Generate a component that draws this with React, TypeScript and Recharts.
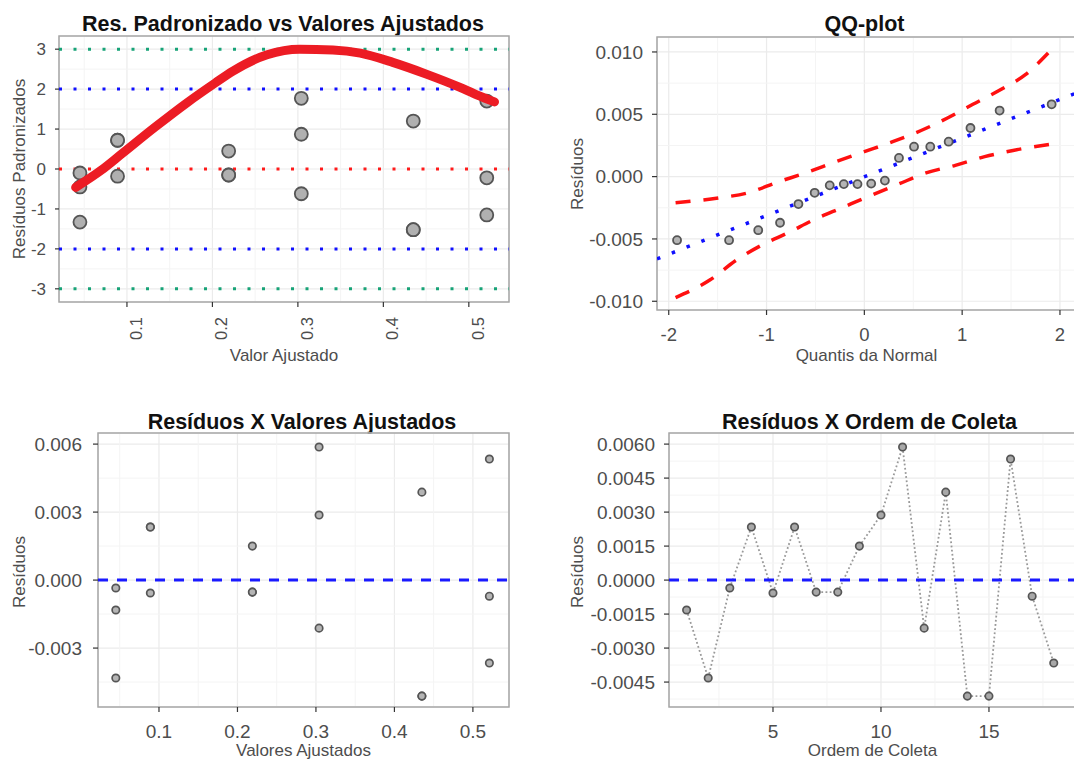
import React from "react";
import {
  ComposedChart, Scatter, Line, XAxis, YAxis, CartesianGrid,
  ReferenceLine, ReferenceArea, Label,
} from "recharts";

const FONT = '"Liberation Sans", Arial, Helvetica, sans-serif';
const INK = "#4d4d4d";
const MAJOR = "#ebebeb";
const MINOR = "#f4f4f4";
const BORDER = "#a6a6a6";

// ── dados ──────────────────────────────────────────────────────────────────
const ordem = [1, 2, 3, 4, 5, 6, 7, 8, 9, 10, 11, 12, 13, 14, 15, 16, 17, 18];
const ajustados = [0.045, 0.045, 0.045, 0.089, 0.089, 0.089, 0.219, 0.219, 0.219,
  0.304, 0.304, 0.304, 0.435, 0.435, 0.435, 0.521, 0.521, 0.521];
const residuos = [-0.00132, -0.00432, -0.00035, 0.00234, -0.00057, 0.00234, -0.00053, -0.00053, 0.0015,
  0.00287, 0.00587, -0.00212, 0.00388, -0.00512, -0.00512, 0.00534, -0.00071, -0.00366];
const resPadronizados = [-0.45, -1.33, -0.1, 0.72, -0.18, 0.72, -0.15, -0.15, 0.45,
  0.87, 1.77, -0.62, 1.2, -1.52, -1.52, 1.7, -0.22, -1.15];

// curva suavizada (vermelha) do painel 1
const suaveX = [0.040, 0.070, 0.094, 0.133, 0.171, 0.203, 0.224, 0.264, 0.302, 0.341, 0.373, 0.411, 0.451, 0.489, 0.510, 0.530];
const suaveY = [-0.46, -0.03, 0.38, 1.05, 1.67, 2.15, 2.45, 2.86, 3.0, 2.98, 2.9, 2.67, 2.37, 2.05, 1.85, 1.68];

// QQ-plot
const quantis = [-1.915, -1.383, -1.085, -0.862, -0.674, -0.508, -0.354, -0.210, -0.070,
  0.070, 0.210, 0.354, 0.508, 0.674, 0.862, 1.085, 1.383, 1.915];
const resOrdenados = [-0.0051, -0.0051, -0.0043, -0.0037, -0.0022, -0.0013, -0.0007, -0.0006, -0.0006,
  -0.00056, -0.00032, 0.0015, 0.0024, 0.0024, 0.0028, 0.0039, 0.0053, 0.0058];
const bandaSupX = [-1.93, -1.48, -1.19, -0.89, -0.60, -0.29, 0, 0.29, 0.58, 0.85, 1.11, 1.40, 1.65, 1.89];
const bandaSupY = [-0.0021, -0.0017, -0.0013, -0.00045, 0.0003, 0.0012, 0.002, 0.0028, 0.0037, 0.0047, 0.0058, 0.007, 0.0082, 0.0100];
const bandaInfX = [-1.93, -1.58, -1.31, -1.05, -0.78, -0.50, -0.23, 0.04, 0.35, 0.63, 0.93, 1.23, 1.52, 1.91];
const bandaInfY = [-0.0097, -0.0083, -0.0067, -0.0055, -0.0045, -0.0034, -0.0025, -0.0016, -0.0006, 0.0003, 0.0009, 0.0016, 0.0021, 0.0026];
const qqLinhaX = [-2.12, 2.164];
const qqLinhaY = [-0.0066, 0.0067];

// ticks
const xTicksAj = [0.1, 0.2, 0.3, 0.4, 0.5];
const yTicksPad = [-3, -2, -1, 0, 1, 2, 3];
const xTicksQQ = [-2, -1, 0, 1, 2];
const yTicksQQ = [-0.01, -0.005, 0, 0.005, 0.01];
const yTicksRes = [-0.003, 0, 0.003, 0.006];
const xTicksOrd = [5, 10, 15];
const yTicksOrd = [-0.0045, -0.003, -0.0015, 0, 0.0015, 0.003, 0.0045, 0.006];

const minorXAj = [0.05, 0.15, 0.25, 0.35, 0.45];
const minorYPad = [-2.5, -1.5, -0.5, 0.5, 1.5, 2.5];
const minorXQQ = [-1.5, -0.5, 0.5, 1.5];
const minorYQQ = [-0.0075, -0.0025, 0.0025, 0.0075];
const minorYRes = [-0.0045, -0.0015, 0.0015, 0.0045];
const minorXOrd = [2.5, 7.5, 12.5, 17.5];
const minorYOrd = [-0.00525, -0.00375, -0.00225, -0.00075, 0.00075, 0.00225, 0.00375, 0.00525];

const zip = (xs: number[], ys: number[]) => xs.map((x, i) => ({ x, y: ys[i] }));

const padData = zip(ajustados, resPadronizados);
const suaveData = zip(suaveX, suaveY);
const qqData = zip(quantis, resOrdenados);
const supData = zip(bandaSupX, bandaSupY);
const infData = zip(bandaInfX, bandaInfY);
const qqLinha = zip(qqLinhaX, qqLinhaY);
const resAjData = zip(ajustados, residuos);
const resOrdData = zip(ordem, residuos);

const tickStyle = (size: number) => ({ fill: INK, fontSize: size, fontFamily: FONT });
const tickLine = { stroke: "#333", strokeWidth: 1.2 };

function circle(r: number, fill: string, stroke: string, sw: number) {
  return (p: any) => <circle cx={p.cx} cy={p.cy} r={r} fill={fill} stroke={stroke} strokeWidth={sw} />;
}

function RotTick(props: any) {
  const { x, y, payload } = props;
  return (
    <text transform={`translate(${x + 15}, ${y + 10}) rotate(-90)`} textAnchor="end"
          fill={INK} fontSize={16.5} fontFamily={FONT}>
      {Number(payload.value).toFixed(1)}
    </text>
  );
}

function yTitle(text: string, x: number, y: number) {
  return (
    <Label content={() => (
      <text x={x} y={y} dy="0.3em" transform={`rotate(-90 ${x} ${y})`} textAnchor="middle"
            fill={INK} fontSize={17} fontFamily={FONT}>{text}</text>
    )} />
  );
}

function xTitle(text: string, offset = 1) {
  return <Label value={text} position="insideBottom" offset={offset} fill={INK} fontSize={17} fontFamily={FONT} />;
}

function Title({ text, cx, top }: { text: string; cx: number; top: number }) {
  return (
    <div style={{
      position: "absolute", left: cx - 300, width: 600, top, textAlign: "center",
      fontFamily: FONT, fontWeight: 700, fontSize: 21.5, lineHeight: "1", color: "#111",
    }}>{text}</div>
  );
}

function minorLines(xs: number[], ys: number[]) {
  return [
    ...xs.map((v) => <ReferenceLine key={"mx" + v} x={v} stroke={MINOR} strokeWidth={1} zIndex={-90} />),
    ...ys.map((v) => <ReferenceLine key={"my" + v} y={v} stroke={MINOR} strokeWidth={1} zIndex={-90} />),
  ];
}

export default function App() {
  const dxAj = [0.0205, 0.547];
  const dyPad = [-3.33, 3.33];
  const dxQQ = [-2.12, 2.164];
  const dyQQ = [-0.0107, 0.0112];
  const dxRes = [0.0223, 0.546];
  const dyRes = [-0.0056, 0.00649];
  const dxOrd = [0.185, 19.03];

  return (
    <div style={{ position: "fixed", left: 0, top: 0, width: 1074, height: 762, overflow: "hidden", background: "#fff" }}>
      {/* ── painel 1 ── */}
      <Title text="Res. Padronizado vs Valores Ajustados" cx={283} top={13.5} />
      <div style={{ position: "absolute", left: 0, top: 0 }}>
        <ComposedChart width={540} height={380} margin={{ top: 36, right: 31, bottom: 18, left: 14 }}>
          {minorLines(minorXAj, minorYPad)}
          <CartesianGrid stroke={MAJOR} strokeWidth={1.2} />
          <XAxis type="number" dataKey="x" domain={dxAj} ticks={xTicksAj} allowDataOverflow
                 height={60} tickSize={5} tickMargin={0} axisLine={false} tickLine={tickLine}
                 tick={RotTick} label={xTitle("Valor Ajustado")} />
          <YAxis type="number" dataKey="y" domain={dyPad} ticks={yTicksPad} allowDataOverflow
                 width={45} tickSize={4} tickMargin={9} axisLine={false} tickLine={tickLine}
                 tick={tickStyle(17)} label={yTitle("Resíduos Padronizados", 20, 169)} />
          <ReferenceArea x1={dxAj[0]} x2={dxAj[1]} y1={dyPad[0]} y2={dyPad[1]} fill="none"
                         stroke={BORDER} strokeWidth={1.5} ifOverflow="visible" />
          <ReferenceLine y={3} stroke="#17a377" strokeWidth={3} strokeDasharray="3 11.5" />
          <ReferenceLine y={-3} stroke="#17a377" strokeWidth={3} strokeDasharray="3 11.5" />
          <ReferenceLine y={2} stroke="#1010ff" strokeWidth={3} strokeDasharray="3 11.5" />
          <ReferenceLine y={-2} stroke="#1010ff" strokeWidth={3} strokeDasharray="3 11.5" />
          <ReferenceLine y={0} stroke="#ff1a1a" strokeWidth={3} strokeDasharray="3 11.5" />
          <Scatter data={padData} dataKey="y" isAnimationActive={false}
                   shape={circle(6.5, "#b0b0b0", "#555", 1.8)} />
          <Line data={suaveData} dataKey="y" type="monotone" stroke="#ec1c24" strokeWidth={9}
                strokeLinecap="round" dot={false} activeDot={false} isAnimationActive={false} zIndex={700} />
        </ComposedChart>
      </div>

      {/* ── painel 2: QQ-plot ── */}
      <Title text="QQ-plot" cx={864.5} top={13.5} />
      <div style={{ position: "absolute", left: 540, top: 0 }}>
        <ComposedChart width={540} height={380} margin={{ top: 37, right: 4, bottom: 18, left: 27 }}>
          {minorLines(minorXQQ, minorYQQ)}
          <CartesianGrid stroke={MAJOR} strokeWidth={1.2} />
          <XAxis type="number" dataKey="x" domain={dxQQ} ticks={xTicksQQ} allowDataOverflow
                 height={52} tickSize={5} tickMargin={13} axisLine={false} tickLine={tickLine}
                 tick={tickStyle(18.5)} label={xTitle("Quantis da Normal")} />
          <YAxis type="number" dataKey="y" domain={dyQQ} ticks={yTicksQQ} allowDataOverflow
                 width={90} tickSize={5} tickMargin={9} axisLine={false} tickLine={tickLine}
                 tick={tickStyle(19)} tickFormatter={(v: number) => v.toFixed(3)}
                 label={yTitle("Resíduos", 38, 174)} />
          <ReferenceArea x1={dxQQ[0]} x2={dxQQ[1]} y1={dyQQ[0]} y2={dyQQ[1]} fill="none"
                         stroke={BORDER} strokeWidth={1.5} ifOverflow="visible" />
          <Line data={supData} dataKey="y" type="monotone" stroke="#ff1010" strokeWidth={3.5}
                strokeDasharray="15 13" dot={false} activeDot={false} isAnimationActive={false} />
          <Line data={infData} dataKey="y" type="monotone" stroke="#ff1010" strokeWidth={3.5}
                strokeDasharray="15 13" dot={false} activeDot={false} isAnimationActive={false} />
          <Line data={qqLinha} dataKey="y" type="linear" stroke="#1010ff" strokeWidth={3.5}
                strokeDasharray="3.5 12.4" dot={false} activeDot={false} isAnimationActive={false} />
          <Scatter data={qqData} dataKey="y" isAnimationActive={false}
                   shape={circle(4, "#b5b5b5", "#555", 1.8)} />
        </ComposedChart>
      </div>

      {/* ── painel 3 ── */}
      <Title text="Resíduos X Valores Ajustados" cx={302} top={411.5} />
      <div style={{ position: "absolute", left: 0, top: 400 }}>
        <ComposedChart width={540} height={362} margin={{ top: 33, right: 31, bottom: 1, left: 18 }}>
          {minorLines(minorXAj, minorYRes)}
          <CartesianGrid stroke={MAJOR} strokeWidth={1.2} />
          <XAxis type="number" dataKey="x" domain={dxRes} ticks={xTicksAj} allowDataOverflow
                 height={54} tickSize={5} tickMargin={13} axisLine={false} tickLine={tickLine}
                 tick={tickStyle(19)} tickFormatter={(v: number) => v.toFixed(1)}
                 label={xTitle("Valores Ajustados", 5)} />
          <YAxis type="number" dataKey="y" domain={dyRes} ticks={yTicksRes} allowDataOverflow
                 width={80} tickSize={5} tickMargin={11} axisLine={false} tickLine={tickLine}
                 tick={tickStyle(19)} tickFormatter={(v: number) => v.toFixed(3)}
                 label={yTitle("Resíduos", 20, 172)} />
          <ReferenceArea x1={dxRes[0]} x2={dxRes[1]} y1={dyRes[0]} y2={dyRes[1]} fill="none"
                         stroke={BORDER} strokeWidth={1.5} ifOverflow="visible" />
          <ReferenceLine y={0} stroke="#1a1aff" strokeWidth={3} strokeDasharray="10 9" />
          <Scatter data={resAjData} dataKey="y" isAnimationActive={false}
                   shape={circle(3.7, "#b5b5b5", "#555", 1.7)} />
        </ComposedChart>
      </div>

      {/* ── painel 4 ── */}
      <Title text="Resíduos X Ordem de Coleta" cx={869.5} top={411.5} />
      <div style={{ position: "absolute", left: 540, top: 400 }}>
        <ComposedChart width={540} height={362} margin={{ top: 33, right: 4, bottom: 1, left: 29 }}>
          {minorLines(minorXOrd, minorYOrd)}
          <CartesianGrid stroke={MAJOR} strokeWidth={1.2} />
          <XAxis type="number" dataKey="x" domain={dxOrd} ticks={xTicksOrd} allowDataOverflow
                 height={54} tickSize={5} tickMargin={13} axisLine={false} tickLine={tickLine}
                 tick={tickStyle(19)} label={xTitle("Ordem de Coleta", 5)} />
          <YAxis type="number" dataKey="y" domain={dyRes} ticks={yTicksOrd} allowDataOverflow
                 width={100} tickSize={5} tickMargin={9} axisLine={false} tickLine={tickLine}
                 tick={tickStyle(19)} tickFormatter={(v: number) => v.toFixed(4)}
                 label={yTitle("Resíduos", 38, 172)} />
          <ReferenceArea x1={dxOrd[0]} x2={dxOrd[1]} y1={dyRes[0]} y2={dyRes[1]} fill="none"
                         stroke={BORDER} strokeWidth={1.5} ifOverflow="visible" />
          <Line data={resOrdData} dataKey="y" type="linear" stroke="#999" strokeWidth={1.8}
                strokeDasharray="1.8 2.4" dot={circle(3.7, "#a8a8a8", "#555", 1.7)}
                activeDot={false} isAnimationActive={false} />
          <ReferenceLine y={0} stroke="#1a1aff" strokeWidth={3} strokeDasharray="10 9" />
        </ComposedChart>
      </div>
    </div>
  );
}
